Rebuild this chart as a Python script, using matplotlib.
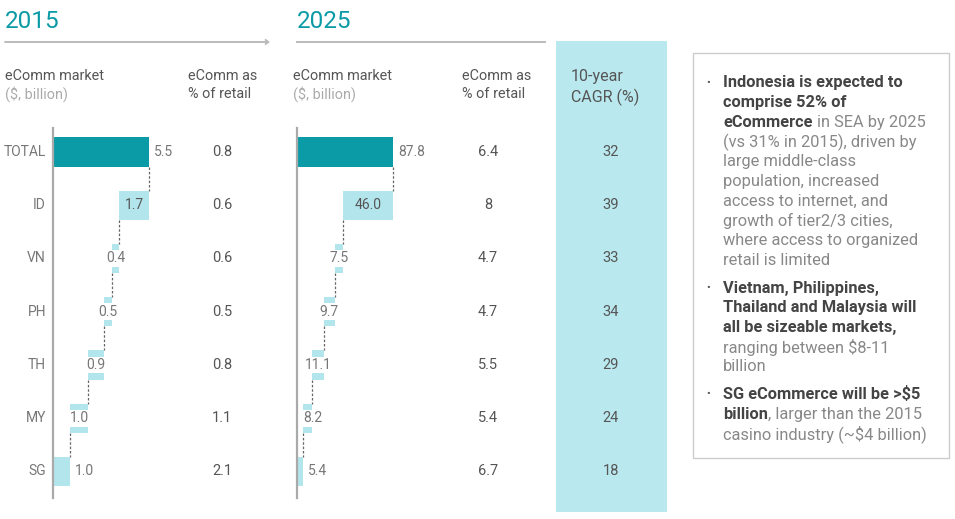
import matplotlib
matplotlib.use('Agg')
import matplotlib.pyplot as plt
from matplotlib.patches import Rectangle, FancyArrowPatch
from matplotlib.lines import Line2D
from matplotlib.transforms import blended_transform_factory
import numpy as np

plt.rcParams['font.family'] = ['Roboto', 'DejaVu Sans']

# data
rows = ['TOTAL', 'ID', 'VN', 'PH', 'TH', 'MY', 'SG']
total_2015 = 5.5
total_2025 = 87.8
market_2015 = [1.7, 0.4, 0.5, 0.9, 1.0, 1.0]
market_2025 = [46.0, 7.5, 9.7, 11.1, 8.2, 5.4]
retail_share_2015 = [0.8, 0.6, 0.6, 0.5, 0.8, 1.1, 2.1]
retail_share_2025 = [6.4, 8, 4.7, 4.7, 5.5, 5.4, 6.7]
cagr = [32, 39, 33, 34, 29, 24, 18]

# commentary box: (text, bold) segments per line, bullets start new groups
notes = [
    [[('Indonesia is expected to', True)],
     [('comprise 52% of', True)],
     [('eCommerce', True), ('in SEA by 2025', False)],
     [('(vs 31% in 2015), driven by', False)],
     [('large middle-class', False)],
     [('population, increased', False)],
     [('access to internet, and', False)],
     [('growth of tier2/3 cities,', False)],
     [('where access to organized', False)],
     [('retail is limited', False)]],
    [[('Vietnam, Philippines,', True)],
     [('Thailand and Malaysia will', True)],
     [('all be sizeable markets,', True)],
     [('ranging between $8-11', False)],
     [('billion', False)]],
    [[('SG eCommerce will be >$5', True)],
     [('billion', True), (', larger than the 2015', False)],
     [('casino industry (~$4 billion)', False)]],
]

W, H = 955, 519
TEAL = '#0b9ba6'
LIGHT = '#b3e5ec'
BAND = '#b9e8ee'
DARK = '#555555'
MID = '#777777'
GREY = '#aaaaaa'

fig = plt.figure(figsize=(W / 100, H / 100), dpi=100)


def fx(px):
    return px / W


def fy(py):
    return 1 - py / H


# CAGR band behind everything
fig.patches.append(Rectangle((fx(556), fy(512)), fx(667) - fx(556), fy(41) - fy(512),
                             transform=fig.transFigure, facecolor=BAND,
                             edgecolor='none', zorder=0))


def waterfall(left_px, total, values, fmt):
    bar_px = 96.0
    width_px = 215.0
    ax = fig.add_axes([fx(left_px), fy(498), width_px / W, (498 - 128) / H])
    ax.set_facecolor('none')
    ax.set_xlim(0, total * width_px / bar_px)
    ax.set_ylim(6.5, -0.45)
    for s in ['top', 'right', 'bottom']:
        ax.spines[s].set_visible(False)
    ax.spines['left'].set_color('#aaaaaa')
    ax.spines['left'].set_linewidth(1.6)
    ax.spines['left'].set_zorder(5)
    ax.set_xticks([])
    ax.set_yticks([])

    vals = np.array(values)
    lefts = np.array([vals[i + 1:].sum() for i in range(len(vals))])
    h = 0.55
    ax.barh(0, total, height=h, left=0, color=TEAL, zorder=2)
    ax.barh(np.arange(1, len(vals) + 1), vals, height=h, left=lefts,
            color=LIGHT, zorder=2)

    # dashed connectors
    xs = [total] + list(lefts[:-1])
    for i, x in enumerate(xs):
        ax.plot([x, x], [i + h / 2, i + 1 - h / 2], color='#666666',
                lw=0.9, ls=(0, (2, 1.5)), zorder=1)

    fs = 10
    ax.text(total * 1.05, 0, fmt.format(total), ha='left', va='center',
            fontsize=fs, color=MID)
    for i, (v, l) in enumerate(zip(vals, lefts)):
        y = i + 1
        if v / total > 0.25:
            ax.text(l + v / 2, y, fmt.format(v), ha='center', va='center',
                    fontsize=fs, color=DARK, zorder=3)
        elif i == len(vals) - 1:
            ax.text(l + v + total * 0.05, y, fmt.format(v), ha='left',
                    va='center', fontsize=fs, color=MID, zorder=3)
        else:
            # keep the label clear of the axis line
            xc = max(l + v / 2, total * 0.16)
            ax.text(xc, y, fmt.format(v), ha='center', va='center',
                    fontsize=fs, color=MID, zorder=3,
                    bbox=dict(boxstyle='square,pad=0.1', fc='white', ec='none'))
    return ax


ax15 = waterfall(53, total_2015, market_2015, '{:.1f}')
ax25 = waterfall(297, total_2025, market_2025, '{:.1f}')

# row labels and table columns
tr15 = blended_transform_factory(fig.transFigure, ax15.transData)
for i, r in enumerate(rows):
    fig.text(fx(46), i, r, transform=tr15, ha='right', va='center',
             fontsize=10, color=MID)
    fig.text(fx(222), i, f'{retail_share_2015[i]:g}', transform=tr15,
             ha='center', va='center', fontsize=10.5, color=DARK)
    fig.text(fx(488), i, f'{retail_share_2025[i]:g}', transform=tr15,
             ha='center', va='center', fontsize=10.5, color=DARK)
    fig.text(fx(611), i, f'{cagr[i]}', transform=tr15,
             ha='center', va='center', fontsize=10.5, color=DARK)

# year headers with rules
for x0, x1, year, arrow in [(5, 270, '2015', True), (297, 545, '2025', False)]:
    fig.text(fx(x0), fy(21), year, ha='left', va='center', fontsize=17.5,
             color=TEAL)
    if arrow:
        fig.add_artist(FancyArrowPatch(
            (fx(x0), fy(42)), (fx(x1), fy(42)), transform=fig.transFigure,
            arrowstyle='->,head_length=2,head_width=1.5', color='#bbbbbb',
            lw=1.4, shrinkA=0, shrinkB=0))
    else:
        fig.add_artist(Line2D([fx(x0), fx(x1)], [fy(42), fy(42)],
                              transform=fig.transFigure, color='#bbbbbb', lw=1.4))

# column headers
for x, top, bottom, bcol in [(5, 'eComm market', '($, billion)', GREY),
                             (188, 'eComm as', '% of retail', DARK),
                             (293, 'eComm market', '($, billion)', GREY),
                             (462, 'eComm as', '% of retail', DARK)]:
    fig.text(fx(x), fy(76), top, ha='left', va='center', fontsize=10.4, color=DARK)
    fig.text(fx(x), fy(94), bottom, ha='left', va='center', fontsize=10.4, color=bcol)
fig.text(fx(571), fy(76), '10-year', ha='left', va='center', fontsize=11.5, color=DARK)
fig.text(fx(571), fy(97), 'CAGR (%)', ha='left', va='center', fontsize=11.5, color=DARK)

# commentary box
fig.patches.append(Rectangle((fx(693), fy(458)), fx(949) - fx(693), fy(53) - fy(458),
                             transform=fig.transFigure, facecolor='white',
                             edgecolor='#cccccc', lw=1, zorder=1))
box_fs = 11.8
renderer = fig.canvas.get_renderer()
probe = fig.text(0, 0, 'x x', fontsize=box_fs)
w1 = probe.get_window_extent(renderer).width
probe.set_text('xx')
space_px = w1 - probe.get_window_extent(renderer).width
probe.remove()

y = 83.0
step = 19.7
for group in notes:
    fig.text(fx(706), fy(y), '•', ha='left', va='center', fontsize=8,
             color='#555555', zorder=2)
    for line in group:
        x = 723.0
        for k, (txt, bold) in enumerate(line):
            if k > 0 and not txt.startswith(','):
                x += space_px
            t = fig.text(fx(x), fy(y), txt, ha='left', va='center', fontsize=box_fs,
                         fontweight='bold' if bold else 'normal',
                         color='#444444' if bold else '#888888', zorder=2)
            x += t.get_window_extent(renderer).width
        y += step
    y += 8

fig.savefig('out.png', dpi=100)
